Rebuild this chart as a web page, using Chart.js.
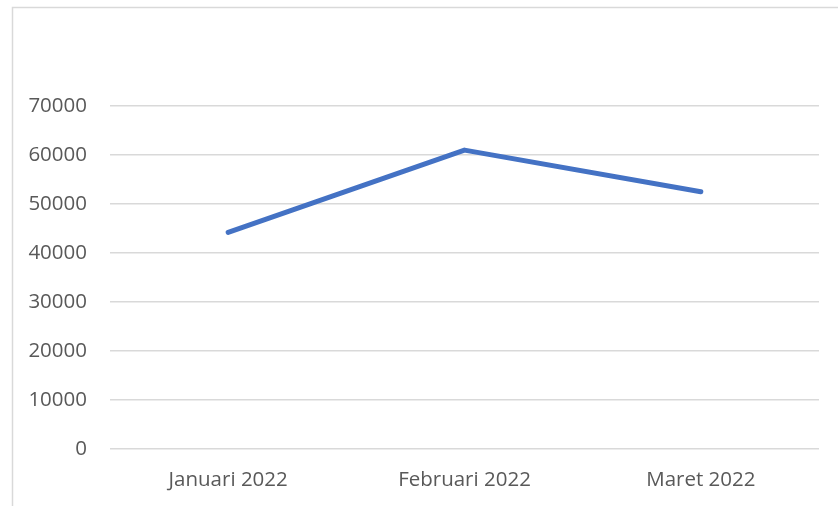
<!DOCTYPE html>
<html>
<head>
<meta charset="utf-8">
<script src="https://cdn.jsdelivr.net/npm/chart.js@4"></script>
<style>
  html, body { margin: 0; padding: 0; background: #fff; }
  #wrap { width: 838px; height: 506px; }
</style>
</head>
<body>
<div id="wrap"><canvas id="grafik" width="838" height="506"></canvas></div>
<script>
// data dari gambar
const bulan = ["Januari 2022", "Februari 2022", "Maret 2022"];
const nilai = [44200, 61000, 52500];
const sumbuYMin = 0;
const sumbuYMax = 70000;
const sumbuYStep = 10000;

// bingkai abu-abu tipis di kiri dan atas
const bingkai = {
  id: 'bingkai',
  beforeDraw(chart) {
    const ctx = chart.ctx;
    ctx.save();
    ctx.strokeStyle = '#d9d9d9';
    ctx.lineWidth = 1.5;
    ctx.strokeRect(12.5, 7.5, 1000, 1000);
    ctx.restore();
  }
};

const teks = '#595959';
const garis = '#d9d9d9';
const huruf = { family: 'Open Sans', size: 20.5 };

new Chart(document.getElementById('grafik'), {
  type: 'line',
  data: {
    labels: bulan,
    datasets: [{
      data: nilai,
      borderColor: '#4472C4',
      borderWidth: 5,
      borderCapStyle: 'round',
      borderJoinStyle: 'round',
      pointRadius: 0,
      tension: 0,
      fill: false
    }]
  },
  options: {
    responsive: false,
    animation: false,
    layout: { padding: { left: 0, right: 19, top: 106, bottom: 0 } },
    plugins: { legend: { display: false }, tooltip: { enabled: false } },
    scales: {
      x: {
        offset: true,
        grid: { display: false },
        border: { display: false },
        ticks: { color: teks, padding: 11, maxRotation: 0, font: huruf },
        afterFit: (s) => { s.height = 57; }
      },
      y: {
        min: sumbuYMin,
        max: sumbuYMax,
        grid: { color: garis, lineWidth: 1.5, drawTicks: false },
        border: { display: false },
        ticks: {
          stepSize: sumbuYStep, color: teks, padding: 23, font: huruf,
          callback: (v) => String(v)
        },
        afterFit: (s) => { s.width = 110; }
      }
    }
  },
  plugins: [bingkai]
});
</script>
</body>
</html>
